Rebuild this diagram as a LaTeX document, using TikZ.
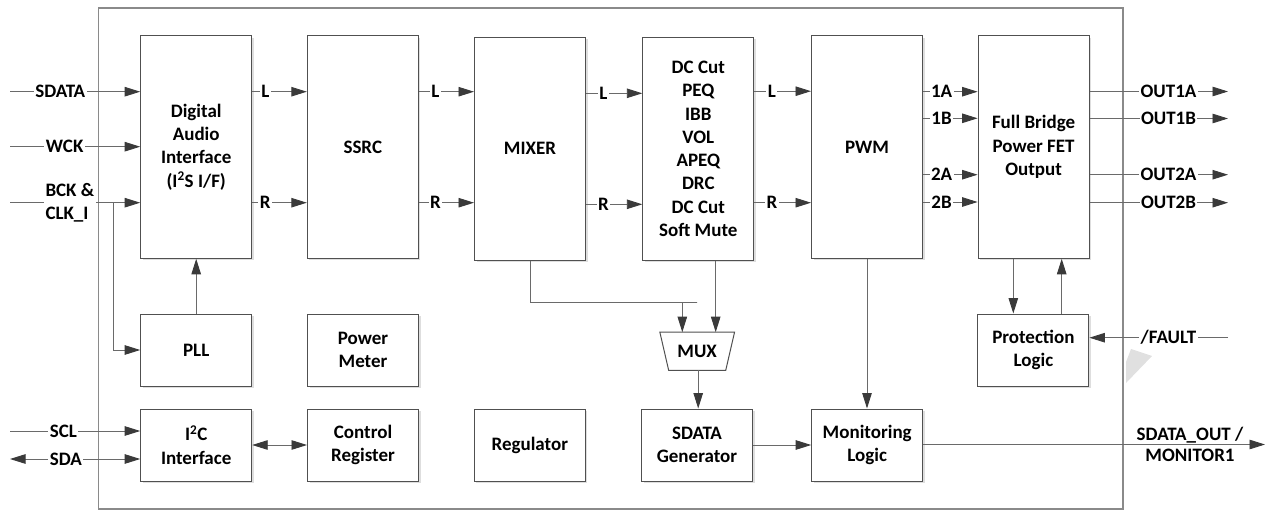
\documentclass[tikz,border=0pt]{standalone}
\usepackage{fontspec}
\setmainfont{Carlito}
\usetikzlibrary{arrows.meta,shadows,calc}
\definecolor{boxc}{HTML}{505050}
\definecolor{linec}{HTML}{6A6A6A}
\definecolor{arrc}{HTML}{3A3A3A}
\definecolor{outc}{HTML}{8A8A8A}
\begin{document}
\begin{tikzpicture}[x=1pt,y=-1pt,
  font=\fontsize{19}{23.3}\selectfont\bfseries,
  blk/.style={draw=boxc, line width=1pt, fill=white, align=center, minimum width=111pt,
    drop shadow={shadow xshift=2pt, shadow yshift=-2pt, fill=black!13, opacity=1}},
  tall/.style={blk, minimum height=222.6pt},
  small/.style={blk, minimum height=72pt},
  conn/.style={draw=linec, line width=0.9pt},
  arr/.style={conn, -{Triangle[length=15.5pt,width=9.5pt,fill=arrc,color=arrc]}},
  darr/.style={conn, {Triangle[length=15.5pt,width=9.5pt,fill=arrc,color=arrc]}-{Triangle[length=15.5pt,width=9.5pt,fill=arrc,color=arrc]}},
  lbl/.style={fill=white, inner sep=1.5pt, text=black}]
\useasboundingbox (0,0) rectangle (1275,511);
% outer chip outline
\draw[outc, line width=1.5pt] (98.7,8) rectangle (1123,509);
% watermark wedge
\fill[black!12] (1126,362) -- (1131,349) -- (1152,356) -- (1126,383) -- cycle;

% blocks
\node[tall] (dai) at (196.2,147) {Digital\\Audio\\Interface\\(I\textsuperscript{2}S I/F)};
\node[tall] (ssrc) at (362.8,147) {SSRC};
\node[tall] (mixer) at (530,148.8) {MIXER};
\node[tall] (dsp) at (698.3,148.8) {DC Cut\\PEQ\\IBB\\VOL\\APEQ\\DRC\\DC Cut\\Soft Mute};
\node[tall] (pwm) at (867,147) {PWM};
\node[tall] (fb) at (1033.6,147) {Full Bridge\\Power FET\\Output};
\node[small] (pll) at (196.2,350) {PLL};
\node[small] (pm) at (363,350) {Power\\Meter};
\node[small] (prot) at (1033.4,350) {Protection\\Logic};
\node[small] (i2c) at (196.2,445) {I\textsuperscript{2}C\\Interface};
\node[small] (creg) at (363,445) {Control\\Register};
\node[small] (reg) at (529.8,445) {Regulator};
\node[small] (sgen) at (697,445) {SDATA\\Generator};
\node[small] (mon) at (867.2,445) {Monitoring\\Logic};
\node[minimum width=74.3pt, minimum height=37.7pt, inner sep=0pt] (mux) at (697.2,351.2) {MUX};
\draw[boxc, line width=1pt] (mux.north west) -- (mux.north east) -- ([xshift=-8.8pt]mux.south east) -- ([xshift=8.8pt]mux.south west) -- cycle;

% free ends
\coordinate (inSDATA) at (10,91.7);
\coordinate (inWCK) at (10,146.7);
\coordinate (inBCK) at (10,202.7);
\coordinate (bckbr) at (113.3,202.7);
\coordinate (inSCL) at (10,431);
\coordinate (inSDA) at (10,459);
\coordinate (o1a) at (1228,91.5);
\coordinate (o1b) at (1228,118.5);
\coordinate (o2a) at (1228,174.7);
\coordinate (o2b) at (1228,202.7);
\coordinate (fault) at (1228,337.7);
\coordinate (sdout) at (1265,444.5);

% inputs
\draw[arr] (inSDATA) -- node[lbl,pos=0.386]{SDATA} (dai.west |- inSDATA);
\draw[arr] (inWCK) -- node[lbl,pos=0.42]{WCK} (dai.west |- inWCK);
\draw[arr] (inBCK) -- node[lbl,pos=0.46,align=left]{BCK \&\\CLK\_I} (dai.west |- inBCK);
\draw[arr] (bckbr) |- (pll.west);
\draw[arr] (pll.north) -- (dai.south);
\draw[arr] (inSCL) -- node[lbl,pos=0.41]{SCL} (i2c.west |- inSCL);
\draw[darr] (inSDA) -- node[lbl,pos=0.43]{SDA} (i2c.west |- inSDA);
\draw[darr] (i2c.east) -- (creg.west);

% L / R chain
\draw[arr] (dai.east |- 0,91.7) -- node[lbl,pos=0.24]{L} (ssrc.west |- 0,91.7);
\draw[arr] (dai.east |- 0,202.7) -- node[lbl,pos=0.24]{R} (ssrc.west |- 0,202.7);
\draw[arr] (ssrc.east |- 0,91.7) -- node[lbl,pos=0.3]{L} (mixer.west |- 0,91.7);
\draw[arr] (ssrc.east |- 0,202.7) -- node[lbl,pos=0.3]{R} (mixer.west |- 0,202.7);
\draw[arr] (mixer.east |- 0,93.3) -- node[lbl,pos=0.31]{L} (dsp.west |- 0,93.3);
\draw[arr] (mixer.east |- 0,204.3) -- node[lbl,pos=0.31]{R} (dsp.west |- 0,204.3);
\draw[arr] (dsp.east |- 0,91.2) -- node[lbl,pos=0.31]{L} (pwm.west |- 0,91.2);
\draw[arr] (dsp.east |- 0,202.7) -- node[lbl,pos=0.31]{R} (pwm.west |- 0,202.7);
\draw[arr] (pwm.east |- 0,91.7) -- node[lbl,pos=0.34]{1A} (fb.west |- 0,91.7);
\draw[arr] (pwm.east |- 0,118.3) -- node[lbl,pos=0.34]{1B} (fb.west |- 0,118.3);
\draw[arr] (pwm.east |- 0,174.7) -- node[lbl,pos=0.34]{2A} (fb.west |- 0,174.7);
\draw[arr] (pwm.east |- 0,202) -- node[lbl,pos=0.34]{2B} (fb.west |- 0,202);

% outputs
\draw[arr] (fb.east |- o1a) -- node[lbl,pos=0.57]{OUT1A} (o1a);
\draw[arr] (fb.east |- o1b) -- node[lbl,pos=0.57]{OUT1B} (o1b);
\draw[arr] (fb.east |- o2a) -- node[lbl,pos=0.57]{OUT2A} (o2a);
\draw[arr] (fb.east |- o2b) -- node[lbl,pos=0.57]{OUT2B} (o2b);

% protection
\draw[arr] ([xshift=-20.3pt]fb.south) -- ([xshift=-20.3pt]fb.south |- prot.north);
\draw[arr] ([xshift=28.3pt]prot.north) -- ([xshift=28.3pt]prot.north |- fb.south);
\draw[arr] (fault) -- node[lbl,pos=0.43]{/FAULT} (prot.east |- fault);

% mux / monitor paths
\draw[arr] (mixer.south) |- (0,302.3 -| mux.north) -| ([xshift=-14.9pt]mux.north);
\draw[arr] ([xshift=18.5pt]mux.north |- dsp.south) -- ([xshift=18.5pt]mux.north);
\draw[arr] ([xshift=1pt]mux.south) -- ([xshift=1pt]mux.south |- sgen.north);
\draw[arr] (pwm.south) -- (pwm.south |- mon.north);
\draw[arr] (sgen.east) -- (mon.west);
\draw[arr] (mon.east |- sdout) -- (sdout);
\node[align=center, font=\fontsize{19}{21.7}\selectfont\bfseries] (sdlbl) at (1190,444.5) {SDATA\_OUT /\\MONITOR1};
\end{tikzpicture}
\end{document}
